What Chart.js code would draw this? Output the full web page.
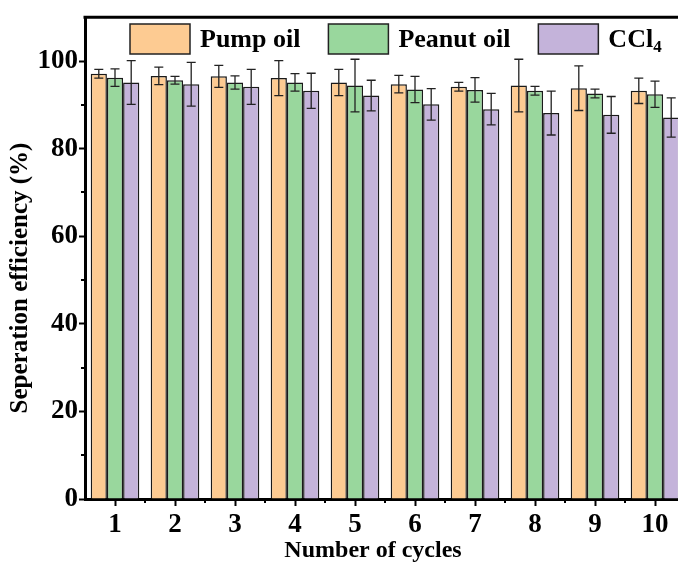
<!DOCTYPE html>
<html>
<head>
<meta charset="utf-8">
<script src="https://cdn.jsdelivr.net/npm/chart.js@4/dist/chart.umd.min.js"></script>
<style>
html,body{margin:0;padding:0;background:#fff;overflow:hidden;width:678px;height:568px;}
canvas{display:block;}
</style>
</head>
<body>
<canvas id="c" width="700" height="568" style="width:700px;height:568px"></canvas>
<script>
const cycles = ['1','2','3','4','5','6','7','8','9','10'];
const seriesNames = ['Pump oil', 'Peanut oil', 'CCl4'];
const pumpOil = [97.1, 96.6, 96.5, 96.1, 95.1, 94.7, 94.1, 94.4, 93.8, 93.2];
const pumpOilErr = [1.0, 2.0, 2.5, 4.0, 3.0, 2.0, 1.0, 6.0, 5.1, 2.9];
const peanutOil = [96.2, 95.6, 95.1, 95.1, 94.4, 93.5, 93.4, 93.2, 92.6, 92.4];
const peanutOilErr = [2.0, 0.9, 1.5, 2.0, 6.0, 3.0, 2.8, 1.0, 1.0, 3.0];
const ccl4 = [95.1, 94.7, 94.1, 93.2, 92.1, 90.1, 89.0, 88.1, 87.7, 87.1];
const ccl4Err = [5.0, 5.0, 4.0, 4.0, 3.5, 3.6, 3.6, 5.0, 4.2, 4.5];
const yTicks = [0, 20, 40, 60, 80, 100];
const xTitle = 'Number of cycles';
const yTitle = 'Seperation efficiency (%)';

const colors = ['#FDCB92', '#99D79D', '#C4B3DA'];
const errs = [pumpOilErr, peanutOilErr, ccl4Err];
const FONT = '"Liberation Serif", "Times New Roman", serif';

const errorBars = {
  id: 'errorBars',
  afterDatasetsDraw(chart) {
    const ctx = chart.ctx, y = chart.scales.y;
    ctx.save();
    ctx.strokeStyle = '#222';
    ctx.lineWidth = 1.3;
    chart.data.datasets.forEach((ds, di) => {
      const meta = chart.getDatasetMeta(di);
      meta.data.forEach((bar, i) => {
        const v = ds.data[i], e = errs[di][i];
        const yt = y.getPixelForValue(v + e), yb = y.getPixelForValue(v - e);
        const x = bar.x, cap = 4.5;
        ctx.beginPath();
        ctx.moveTo(x, yt); ctx.lineTo(x, yb);
        ctx.moveTo(x - cap, yt); ctx.lineTo(x + cap, yt);
        ctx.moveTo(x - cap, yb); ctx.lineTo(x + cap, yb);
        ctx.stroke();
      });
    });
    ctx.restore();
  }
};

const frame = {
  id: 'frame',
  afterDraw(chart) {
    const ctx = chart.ctx, a = chart.chartArea, x = chart.scales.x, y = chart.scales.y;
    ctx.save();
    ctx.strokeStyle = '#000';
    ctx.lineWidth = 3;
    ctx.beginPath();
    ctx.moveTo(a.left - 1.5, a.top); ctx.lineTo(a.right, a.top); ctx.lineTo(a.right, a.bottom);
    ctx.stroke();
    // minor ticks
    ctx.lineWidth = 2;
    ctx.beginPath();
    for (let v = 10; v < 110; v += 20) {
      const py = Math.round(y.getPixelForValue(v));
      ctx.moveTo(a.left, py); ctx.lineTo(a.left - 4, py);
    }
    const step = x.getPixelForValue(1) - x.getPixelForValue(0);
    for (let i = 0; i < cycles.length - 1; i++) {
      const px = Math.round(x.getPixelForValue(i) + step / 2);
      ctx.moveTo(px, a.bottom); ctx.lineTo(px, a.bottom + 4);
    }
    ctx.stroke();
    // axis titles
    ctx.fillStyle = '#000';
    ctx.textAlign = 'center';
    ctx.textBaseline = 'middle';
    ctx.font = 'bold 24px ' + FONT;
    ctx.fillText(xTitle, 373, 551);
    ctx.translate(21, 278);
    ctx.rotate(-Math.PI / 2);
    ctx.font = 'bold 25px ' + FONT;
    ctx.fillText(yTitle, 0, 0);
    ctx.restore();
  }
};

const legendBox = {
  id: 'legendBox',
  afterDraw(chart) {
    const ctx = chart.ctx;
    ctx.save();
    const fs = 26;
    ctx.font = 'bold ' + fs + 'px ' + FONT;
    ctx.textBaseline = 'middle';
    let x = 130;
    const yTop = 24, bw = 60, bh = 30, cy = yTop + bh / 2 + 1;
    chart.data.datasets.forEach((ds, i) => {
      ctx.fillStyle = ds.backgroundColor;
      ctx.fillRect(x, yTop, bw, bh);
      ctx.strokeStyle = '#222';
      ctx.lineWidth = 1.5;
      ctx.strokeRect(x, yTop, bw, bh);
      let tx = x + bw + 10;
      ctx.fillStyle = '#000';
      const label = ds.label;
      if (label === 'CCl4') {
        ctx.fillText('CCl', tx, cy);
        const w = ctx.measureText('CCl').width;
        ctx.font = 'bold 17px ' + FONT;
        ctx.fillText('4', tx + w, cy + 8);
        ctx.font = 'bold ' + fs + 'px ' + FONT;
        tx += w + 10;
      } else {
        ctx.fillText(label, tx, cy);
        tx += ctx.measureText(label).width;
      }
      x = tx + 28;
    });
    ctx.restore();
  }
};

new Chart(document.getElementById('c'), {
  type: 'bar',
  data: {
    labels: cycles,
    datasets: [
      { label: seriesNames[0], data: pumpOil, backgroundColor: colors[0] },
      { label: seriesNames[1], data: peanutOil, backgroundColor: colors[1] },
      { label: seriesNames[2], data: ccl4, backgroundColor: colors[2] }
    ].map(d => Object.assign(d, { borderColor: '#1a1a1a', borderWidth: 1.5, categoryPercentage: 0.81, barPercentage: 1.0 }))
  },
  options: {
    responsive: false,
    devicePixelRatio: 1,
    animation: false,
    layout: { padding: { left: 0, right: 15, top: 15, bottom: 0 } },
    plugins: { legend: { display: false }, tooltip: { enabled: false } },
    scales: {
      x: {
        offset: true,
        grid: { offset: false, drawOnChartArea: false, tickLength: 7, tickWidth: 2, tickColor: '#000' },
        border: { color: '#000', width: 3 },
        ticks: { color: '#000', font: { family: FONT, size: 27, weight: 'bold' }, padding: 3, maxRotation: 0 },
        title: { display: false, text: xTitle },
        afterFit(s) { s.height = 69; }
      },
      y: {
        min: 0, max: 110,
        afterBuildTicks(s) { s.ticks = []; for (let v = 0; v <= 100; v += 10) s.ticks.push({ value: v }); },
        grid: { drawOnChartArea: false, tickLength: 6, tickWidth: 2,
          tickColor: c => (c.tick && yTicks.includes(c.tick.value)) ? '#000' : 'rgba(0,0,0,0)' },
        border: { color: '#000', width: 3 },
        ticks: { color: '#000', font: { family: FONT, size: 27, weight: 'bold' }, padding: 1,
          callback: v => yTicks.includes(v) ? String(v) : '' },
        title: { display: false, text: yTitle },
        afterFit(s) { s.width = 85; }
      }
    }
  },
  plugins: [errorBars, frame, legendBox]
});
</script>
</body>
</html>
